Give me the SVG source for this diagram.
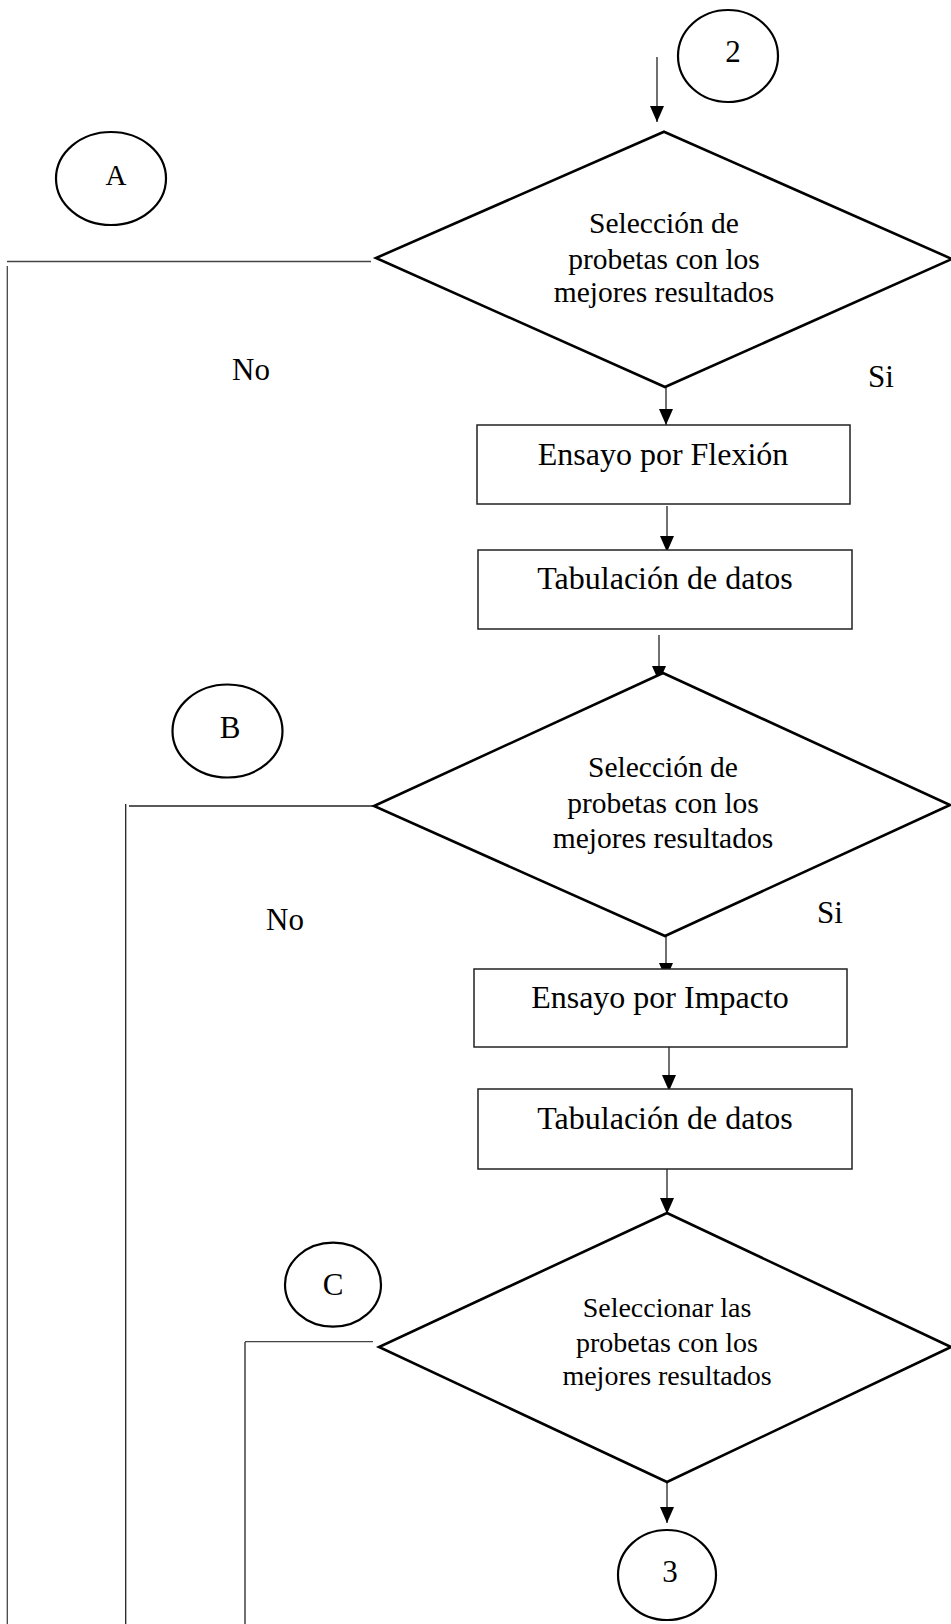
<svg xmlns="http://www.w3.org/2000/svg" width="951" height="1624" viewBox="0 0 951 1624">
  <style>
    text { font-family: "Liberation Serif", "Times New Roman", serif; fill: #000; }
    .conn { fill: none; stroke: #222; stroke-width: 1.3; }
    .rail { fill: none; stroke: #444; stroke-width: 1.3; }
    .box { fill: #fff; stroke: #222; stroke-width: 1.5; }
    .dec { fill: #fff; stroke: #000; stroke-width: 2.6; stroke-linejoin: miter; }
    .conn-node { fill: #fff; stroke: #000; stroke-width: 2.2; }
    .lbl { font-size: 32px; text-anchor: middle; }
    .dtxt { font-size: 29.5px; text-anchor: middle; }
    .ctxt { font-size: 31px; text-anchor: middle; }
    .branch { font-size: 31px; }
  </style>
  <defs>
    <marker id="arrow" markerUnits="userSpaceOnUse" markerWidth="16" markerHeight="14" refX="16" refY="7" orient="auto">
      <path d="M0,0 L16,7 L0,14 Z" fill="#000"/>
    </marker>
  </defs>

  <!-- connectors -->
  <g id="connectors">
    <line class="conn" x1="657" y1="57" x2="657" y2="122" marker-end="url(#arrow)"/>
    <line class="conn" x1="666" y1="387" x2="666" y2="425" marker-end="url(#arrow)"/>
    <line class="conn" x1="667" y1="506" x2="667" y2="552" marker-end="url(#arrow)"/>
    <line class="conn" x1="659" y1="635" x2="659" y2="682" marker-end="url(#arrow)"/>
    <line class="conn" x1="666" y1="936" x2="666" y2="979" marker-end="url(#arrow)"/>
    <line class="conn" x1="669" y1="1045" x2="669" y2="1091" marker-end="url(#arrow)"/>
    <line class="conn" x1="667" y1="1169" x2="667" y2="1214" marker-end="url(#arrow)"/>
    <line class="conn" x1="667" y1="1482" x2="667" y2="1523" marker-end="url(#arrow)"/>

    <!-- "No" return paths -->
    <line class="rail" x1="7" y1="261.5" x2="371" y2="261.5"/>
    <line class="rail" x1="7.3" y1="266" x2="7.3" y2="1624"/>
    <line class="conn" x1="129" y1="806" x2="373" y2="806"/>
    <line class="conn" x1="125.7" y1="804" x2="125.7" y2="1624"/>
    <line class="rail" x1="245" y1="1341.7" x2="373" y2="1341.7"/>
    <line class="conn" x1="245" y1="1342" x2="245" y2="1624"/>
  </g>

  <!-- off-page connectors -->
  <g id="node-2">
    <ellipse class="conn-node" cx="728" cy="56" rx="50" ry="46"/>
    <text class="ctxt" x="733" y="62" font-size="32">2</text>
  </g>
  <g id="node-A">
    <ellipse class="conn-node" cx="111" cy="178.5" rx="55" ry="46.5"/>
    <text class="ctxt" x="116" y="185" style="font-size:29px">A</text>
  </g>
  <g id="node-B">
    <ellipse class="conn-node" cx="227.5" cy="731" rx="55" ry="46.5"/>
    <text class="ctxt" x="230" y="738">B</text>
  </g>
  <g id="node-C">
    <ellipse class="conn-node" cx="333" cy="1284.7" rx="48" ry="42"/>
    <text class="ctxt" x="333" y="1295">C</text>
  </g>
  <g id="node-3">
    <ellipse class="conn-node" cx="667" cy="1575" rx="49" ry="45"/>
    <text class="ctxt" x="670" y="1582">3</text>
  </g>

  <!-- decision 1 -->
  <g id="decision-1">
    <polygon class="dec" points="664,131.7 952,259 665,387 376,258"/>
    <text class="dtxt" x="664" y="233">Selección de</text>
    <text class="dtxt" x="664" y="269">probetas con los</text>
    <text class="dtxt" x="664" y="302">mejores resultados</text>
  </g>
  <text class="branch" x="232" y="380">No</text>
  <text class="branch" x="868" y="387">Si</text>

  <!-- process boxes -->
  <g id="flexion">
    <rect class="box" x="477" y="425" width="373" height="79"/>
    <text class="lbl" x="663" y="465">Ensayo por Flexión</text>
  </g>
  <g id="tabulacion-1">
    <rect class="box" x="478" y="550" width="374" height="79"/>
    <text class="lbl" x="665" y="589">Tabulación de datos</text>
  </g>

  <!-- decision 2 -->
  <g id="decision-2">
    <polygon class="dec" points="663,673 950,805 665,936 374,806"/>
    <text class="dtxt" x="663" y="777">Selección de</text>
    <text class="dtxt" x="663" y="813">probetas con los</text>
    <text class="dtxt" x="663" y="848">mejores resultados</text>
  </g>
  <text class="branch" x="266" y="930">No</text>
  <text class="branch" x="817" y="923">Si</text>

  <g id="impacto">
    <rect class="box" x="474" y="969" width="373" height="78"/>
    <text class="lbl" x="660" y="1008">Ensayo por Impacto</text>
  </g>
  <g id="tabulacion-2">
    <rect class="box" x="478" y="1089" width="374" height="80"/>
    <text class="lbl" x="665" y="1129">Tabulación de datos</text>
  </g>

  <!-- decision 3 -->
  <g id="decision-3">
    <polygon class="dec" points="667,1213 951,1347 667,1482 379,1347"/>
    <text class="dtxt" x="667" y="1317" style="font-size:28px">Seleccionar las</text>
    <text class="dtxt" x="667" y="1352" style="font-size:28px">probetas con los</text>
    <text class="dtxt" x="667" y="1385" style="font-size:28px">mejores resultados</text>
  </g>
</svg>
